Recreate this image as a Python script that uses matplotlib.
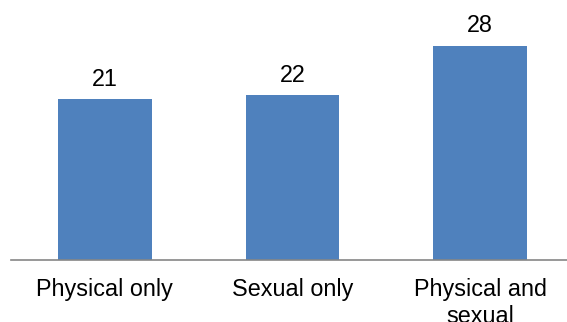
import matplotlib
matplotlib.use("Agg")
import matplotlib.pyplot as plt

categories = ["Physical only", "Sexual only", "Physical and\nsexual"]
values = [21.0, 21.5, 28.0]
value_labels = ["21", "22", "28"]

plt.rcParams['font.family'] = ['Liberation Sans', 'DejaVu Sans']

W, H = 567, 322
fig = plt.figure(figsize=(W/100, H/100), dpi=100)
ax = fig.add_axes([11/W, (H-259.5)/H, (574-11)/W, 259.5/H])
x = list(range(len(categories)))
bars = ax.bar(x, values, width=0.5, color='#4F81BD')
ax.set_xlim(-0.5, 2.5)
ax.set_ylim(0, 259.5/7.636)
for s in ['top', 'right', 'left']:
    ax.spines[s].set_visible(False)
ax.spines['bottom'].set_color('#868686')
ax.spines['bottom'].set_linewidth(1.2)
ax.set_yticks([])
ax.set_xticks(x)
ax.set_xticklabels(categories, fontsize=16.8, linespacing=1.22)
ax.tick_params(axis='x', length=0, pad=13)
for xi, v, lab in zip(x, values, value_labels):
    ax.annotate(lab, (xi, v), xytext=(0, 6), textcoords='offset points',
                ha='center', va='bottom', fontsize=16.8)
fig.savefig('out.png', dpi=100)
